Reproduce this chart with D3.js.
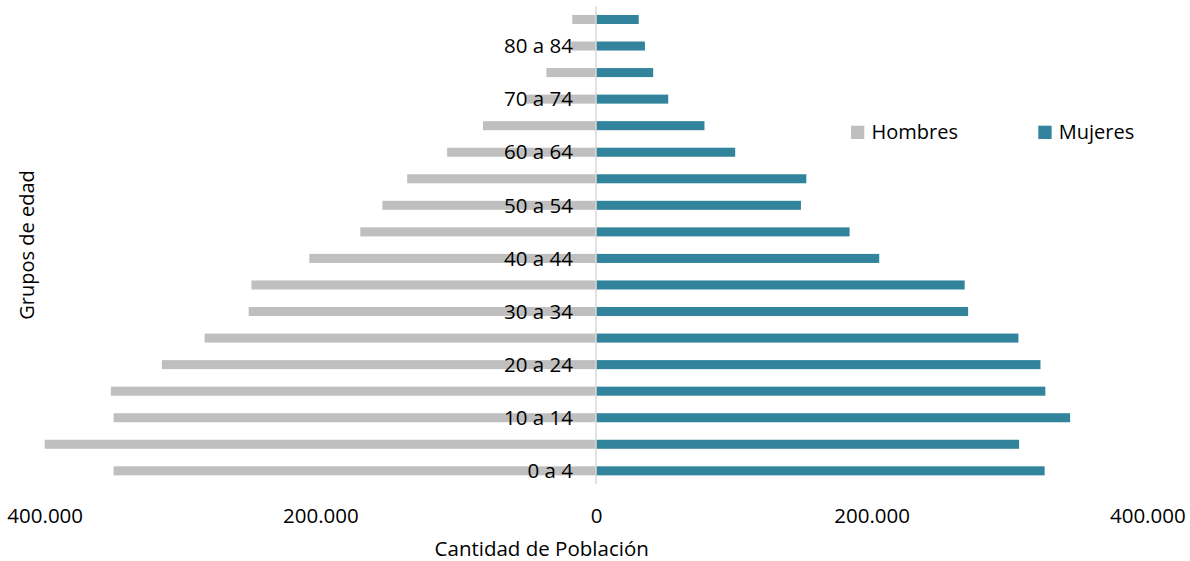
<!DOCTYPE html>
<html>
<head>
<meta charset="utf-8">
<script src="https://cdn.jsdelivr.net/npm/d3@7"></script>
<style>
  html, body { margin: 0; padding: 0; background: #ffffff; }
  svg { display: block; font-family: "Open Sans", sans-serif; }
</style>
</head>
<body>
<svg id="chart" width="1190" height="561"></svg>
<script>
// ---- Data ----
const categories = ["0 a 4","5 a 9","10 a 14","15 a 19","20 a 24","25 a 29","30 a 34","35 a 39","40 a 44",
                    "45 a 49","50 a 54","55 a 59","60 a 64","65 a 69","70 a 74","75 a 79","80 a 84","85 y más"];
const hombres = [350000, 400000, 350000, 352000, 315000, 284000, 252000, 250000, 208000,
                 171000, 155000, 137000, 108000, 82000, 51000, 36000, 18000, 17200];
const mujeres = [325500, 307000, 344000, 326000, 322500, 306500, 270000, 267500, 205500,
                 184000, 148700, 152600, 101000, 78700, 52400, 41500, 35500, 31000];
const tickValues = [-400000, -200000, 0, 200000, 400000];
const seriesNames = ["Hombres", "Mujeres"];
const seriesColors = ["#BFBFBF", "#31849B"];

// ---- Chart ----
const svg = d3.select("#chart");
const locale = d3.formatLocale({decimal: ",", thousands: ".", grouping: [3], currency: ["$", ""]});
const fmt = locale.format(",d");

const x = d3.scaleLinear().domain([-400000, 400000]).range([44.7, 1147.3]);
const y = d3.scaleBand().domain(categories.slice().reverse()).range([6.2, 484.1])
  .paddingInner(0.66).paddingOuter(0.33);

const rows = categories.map((c, i) => ({cat: c, h: hombres[i], m: mujeres[i], i}));

// Hombres bars (left)
svg.append("g").selectAll("rect").data(rows).join("rect")
  .attr("x", d => x(-d.h))
  .attr("y", d => y(d.cat))
  .attr("width", d => x(0) - x(-d.h))
  .attr("height", y.bandwidth())
  .attr("fill", seriesColors[0]);

// Mujeres bars (right)
svg.append("g").selectAll("rect").data(rows).join("rect")
  .attr("x", x(0))
  .attr("y", d => y(d.cat))
  .attr("width", d => x(d.m) - x(0))
  .attr("height", y.bandwidth())
  .attr("fill", seriesColors[1]);

// Zero axis line
svg.append("line")
  .attr("x1", x(0)).attr("x2", x(0))
  .attr("y1", y.range()[0]).attr("y2", y.range()[1])
  .attr("stroke", "#D9D9D9").attr("stroke-width", 1.5);

// Category labels (every other)
svg.append("g").selectAll("text").data(rows.filter(d => d.i % 2 === 0)).join("text")
  .attr("x", x(0) - 23)
  .attr("y", d => y(d.cat) + y.bandwidth() / 2)
  .attr("dy", "0.35em")
  .attr("text-anchor", "end")
  .attr("font-size", 20.5)
  .attr("fill", "#000")
  .text(d => d.cat);

// X axis tick labels
const xAxis = d3.axisBottom(x).tickValues(tickValues).tickSize(0).tickPadding(0)
  .tickFormat(v => fmt(Math.abs(v)));
const gx = svg.append("g").attr("transform", "translate(0,508)").call(xAxis);
gx.select(".domain").remove();
gx.selectAll("text").attr("font-size", 20.5).attr("fill", "#000")
  .attr("font-family", "Open Sans, sans-serif").attr("dy", "0.71em");

// Axis titles
svg.append("text")
  .attr("x", 541.7).attr("y", 549)
  .attr("dy", "0.35em")
  .attr("text-anchor", "middle")
  .attr("font-size", 20.5)
  .attr("fill", "#000")
  .text("Cantidad de Población");

svg.append("text")
  .attr("transform", "translate(27,245) rotate(-90)")
  .attr("dy", "0.35em")
  .attr("text-anchor", "middle")
  .attr("font-size", 20)
  .attr("fill", "#000")
  .text("Grupos de edad");

// Legend
const legendX = [851, 1038.3];
const lg = svg.append("g").selectAll("g").data(seriesNames).join("g")
  .attr("transform", (d, i) => `translate(${legendX[i]},125.7)`);
lg.append("rect").attr("width", 13.3).attr("height", 13.3)
  .attr("fill", (d, i) => seriesColors[i]);
lg.append("text").attr("x", 20.5).attr("y", 6.7).attr("dy", "0.35em")
  .attr("font-size", 20).attr("fill", "#000")
  .text(d => d);
</script>
</body>
</html>
